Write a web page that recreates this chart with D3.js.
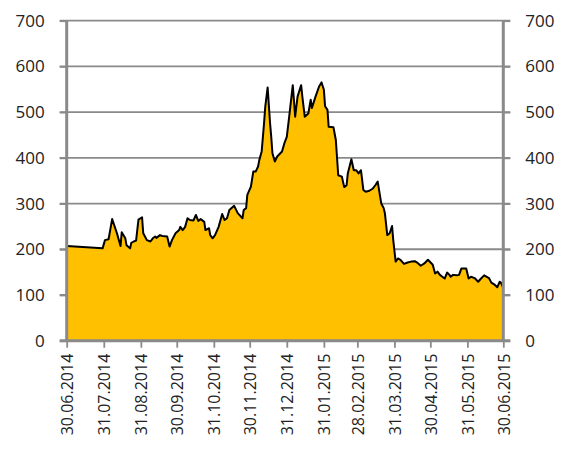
<!DOCTYPE html>
<html>
<head>
<meta charset="utf-8">
<script src="https://cdn.jsdelivr.net/npm/d3@7.9.0/dist/d3.min.js"></script>
<style>
  html, body { margin: 0; padding: 0; background: #fff; }
  svg { display: block; }
  text { font-family: "Open Sans", "Liberation Sans", sans-serif; fill: #222; }
</style>
</head>
<body>
<svg id="chart" width="571" height="450"></svg>
<script>
// ====== Data ======
const dates = [
  '2014-06-30','2014-07-30','2014-08-01','2014-08-04','2014-08-07','2014-08-11','2014-08-14','2014-08-15',
  '2014-08-18','2014-08-19','2014-08-22','2014-08-23','2014-08-25','2014-08-27','2014-08-28','2014-08-29',
  '2014-09-01','2014-09-02','2014-09-05','2014-09-08','2014-09-10','2014-09-12','2014-09-13','2014-09-16',
  '2014-09-18','2014-09-22','2014-09-24','2014-09-26','2014-09-29','2014-10-02','2014-10-03','2014-10-05',
  '2014-10-07','2014-10-09','2014-10-11','2014-10-14','2014-10-16','2014-10-18','2014-10-20','2014-10-23',
  '2014-10-24','2014-10-27','2014-10-28','2014-10-30','2014-11-01','2014-11-04','2014-11-07','2014-11-09',
  '2014-11-11','2014-11-13','2014-11-17','2014-11-20','2014-11-24','2014-11-25','2014-11-27','2014-11-28',
  '2014-12-01','2014-12-03','2014-12-05','2014-12-07','2014-12-08','2014-12-10','2014-12-12','2014-12-13',
  '2014-12-15','2014-12-17','2014-12-18','2014-12-19','2014-12-21','2014-12-23','2014-12-27','2014-12-29',
  '2014-12-31','2015-01-02','2015-01-05','2015-01-07','2015-01-09','2015-01-12','2015-01-13','2015-01-15',
  '2015-01-18','2015-01-20','2015-01-21','2015-01-24','2015-01-27','2015-01-29','2015-01-31','2015-02-01',
  '2015-02-03','2015-02-04','2015-02-08','2015-02-10','2015-02-12','2015-02-15','2015-02-17','2015-02-19',
  '2015-02-20','2015-02-23','2015-02-25','2015-02-27','2015-03-01','2015-03-03','2015-03-05','2015-03-07',
  '2015-03-10','2015-03-13','2015-03-15','2015-03-17','2015-03-20','2015-03-22','2015-03-23','2015-03-25',
  '2015-03-27','2015-03-29','2015-03-30','2015-04-01','2015-04-03','2015-04-05','2015-04-08','2015-04-11',
  '2015-04-14','2015-04-17','2015-04-19','2015-04-22','2015-04-25','2015-04-28','2015-05-02','2015-05-04',
  '2015-05-06','2015-05-08','2015-05-10','2015-05-12','2015-05-14','2015-05-16','2015-05-17','2015-05-19',
  '2015-05-22','2015-05-24','2015-05-26','2015-05-30','2015-06-01','2015-06-03','2015-06-06','2015-06-09',
  '2015-06-11','2015-06-14','2015-06-18','2015-06-20','2015-06-23','2015-06-25','2015-06-27','2015-06-28',
  '2015-06-30'
];
const values = [
  207, 202, 220, 222, 266, 235, 207, 237,
  224, 209, 202, 214, 217, 219, 242, 265,
  270, 235, 220, 217, 224, 228, 225, 231,
  229, 228, 206, 220, 235, 242, 249, 242,
  249, 268, 264, 263, 275, 262, 266, 260,
  242, 246, 231, 224, 231, 249, 277, 264,
  268, 286, 295, 279, 268, 286, 290, 319,
  337, 370, 370, 381, 395, 414, 476, 512,
  554, 476, 446, 410, 392, 403, 414, 432,
  446, 490, 559, 490, 534, 559, 534, 490,
  497, 527, 509, 534, 556, 565, 549, 513,
  505, 468, 467, 439, 362, 359, 336, 340,
  366, 397, 373, 373, 366, 373, 330, 326,
  328, 333, 340, 348, 300, 290, 279, 231,
  235, 251, 220, 173, 180, 177, 168, 171,
  173, 174, 171, 164, 169, 177, 166, 147,
  151, 144, 140, 136, 149, 144, 140, 144,
  143, 144, 158, 158, 136, 140, 137, 129,
  135, 143, 137, 127, 122, 117, 129, 127,
  115
];
const tickLabels = [
  '30.06.2014','31.07.2014','31.08.2014','30.09.2014','31.10.2014','30.11.2014',
  '31.12.2014','31.01.2015','28.02.2015','31.03.2015','30.04.2015','31.05.2015','30.06.2015'
];
const yTicks = [0, 100, 200, 300, 400, 500, 600, 700];

// ====== Setup ======
const svg = d3.select('#chart');
const plotLeft = 66.7, plotRight = 503.3, plotTop = 20.7, plotBottom = 340.7;
const parseIso = d3.timeParse('%Y-%m-%d');
const parseLabel = d3.timeParse('%d.%m.%Y');

const data = dates.map((d, i) => ({ date: parseIso(d), value: values[i] }));

const x = d3.scaleTime()
  .domain([parseLabel(tickLabels[0]), parseLabel(tickLabels[tickLabels.length - 1])])
  .range([plotLeft, plotRight]);
const y = d3.scaleLinear().domain([0, 700]).range([plotBottom, plotTop]);

const grey = '#8a8a8a';

// gridlines (with little outer ticks on both sides)
svg.append('g')
  .selectAll('line')
  .data(yTicks.filter(t => t > 0))
  .join('line')
  .attr('x1', plotLeft - 7)
  .attr('x2', plotRight + 7)
  .attr('y1', d => y(d))
  .attr('y2', d => y(d))
  .attr('stroke', grey)
  .attr('stroke-width', 1.8);

// ====== Area + line ======
const area = d3.area()
  .x(d => x(d.date))
  .y0(y(0))
  .y1(d => y(d.value));
const line = d3.line()
  .x(d => x(d.date))
  .y(d => y(d.value));

svg.append('path')
  .datum(data)
  .attr('d', area)
  .attr('fill', '#ffc000');

svg.append('path')
  .datum(data)
  .attr('d', line)
  .attr('fill', 'none')
  .attr('stroke', '#000')
  .attr('stroke-width', 2)
  .attr('stroke-linejoin', 'round');

// ====== Axes ======
const yAxisFont = '17px';
const xAxisFont = '16px';

const yLeft = svg.append('g')
  .attr('transform', `translate(${plotLeft},0)`)
  .call(d3.axisLeft(y).tickValues(yTicks).tickSize(7).tickPadding(15));
const yRight = svg.append('g')
  .attr('transform', `translate(${plotRight},0)`)
  .call(d3.axisRight(y).tickValues(yTicks).tickSize(7).tickPadding(15));

[yLeft, yRight].forEach(g => {
  g.attr('font-family', null);
  g.select('.domain').attr('stroke', grey).attr('stroke-width', 3)
    .attr('d', `M0,${plotTop}V${plotBottom}`);
  g.selectAll('.tick line').attr('stroke', grey).attr('stroke-width', 1.8);
  g.selectAll('.tick text').style('font-size', yAxisFont).attr('fill', '#222');
});

const xAxis = svg.append('g')
  .attr('transform', `translate(0,${plotBottom})`)
  .call(d3.axisBottom(x)
    .tickValues(tickLabels.map(parseLabel))
    .tickFormat(d3.timeFormat('%d.%m.%Y'))
    .tickSize(7)
    .tickSizeOuter(0));

xAxis.attr('font-family', null);
xAxis.select('.domain').attr('stroke', grey).attr('stroke-width', 3)
  .attr('d', `M${plotLeft - 7},0H${plotRight + 7}`);
xAxis.selectAll('.tick line').attr('stroke', grey).attr('stroke-width', 1.8);
xAxis.selectAll('.tick text')
  .style('font-size', xAxisFont)
  .attr('fill', '#222')
  .attr('transform', 'rotate(-90)')
  .attr('text-anchor', 'end')
  .attr('x', -13)
  .attr('y', 0)
  .attr('dy', '0.36em');
</script>
</body>
</html>
